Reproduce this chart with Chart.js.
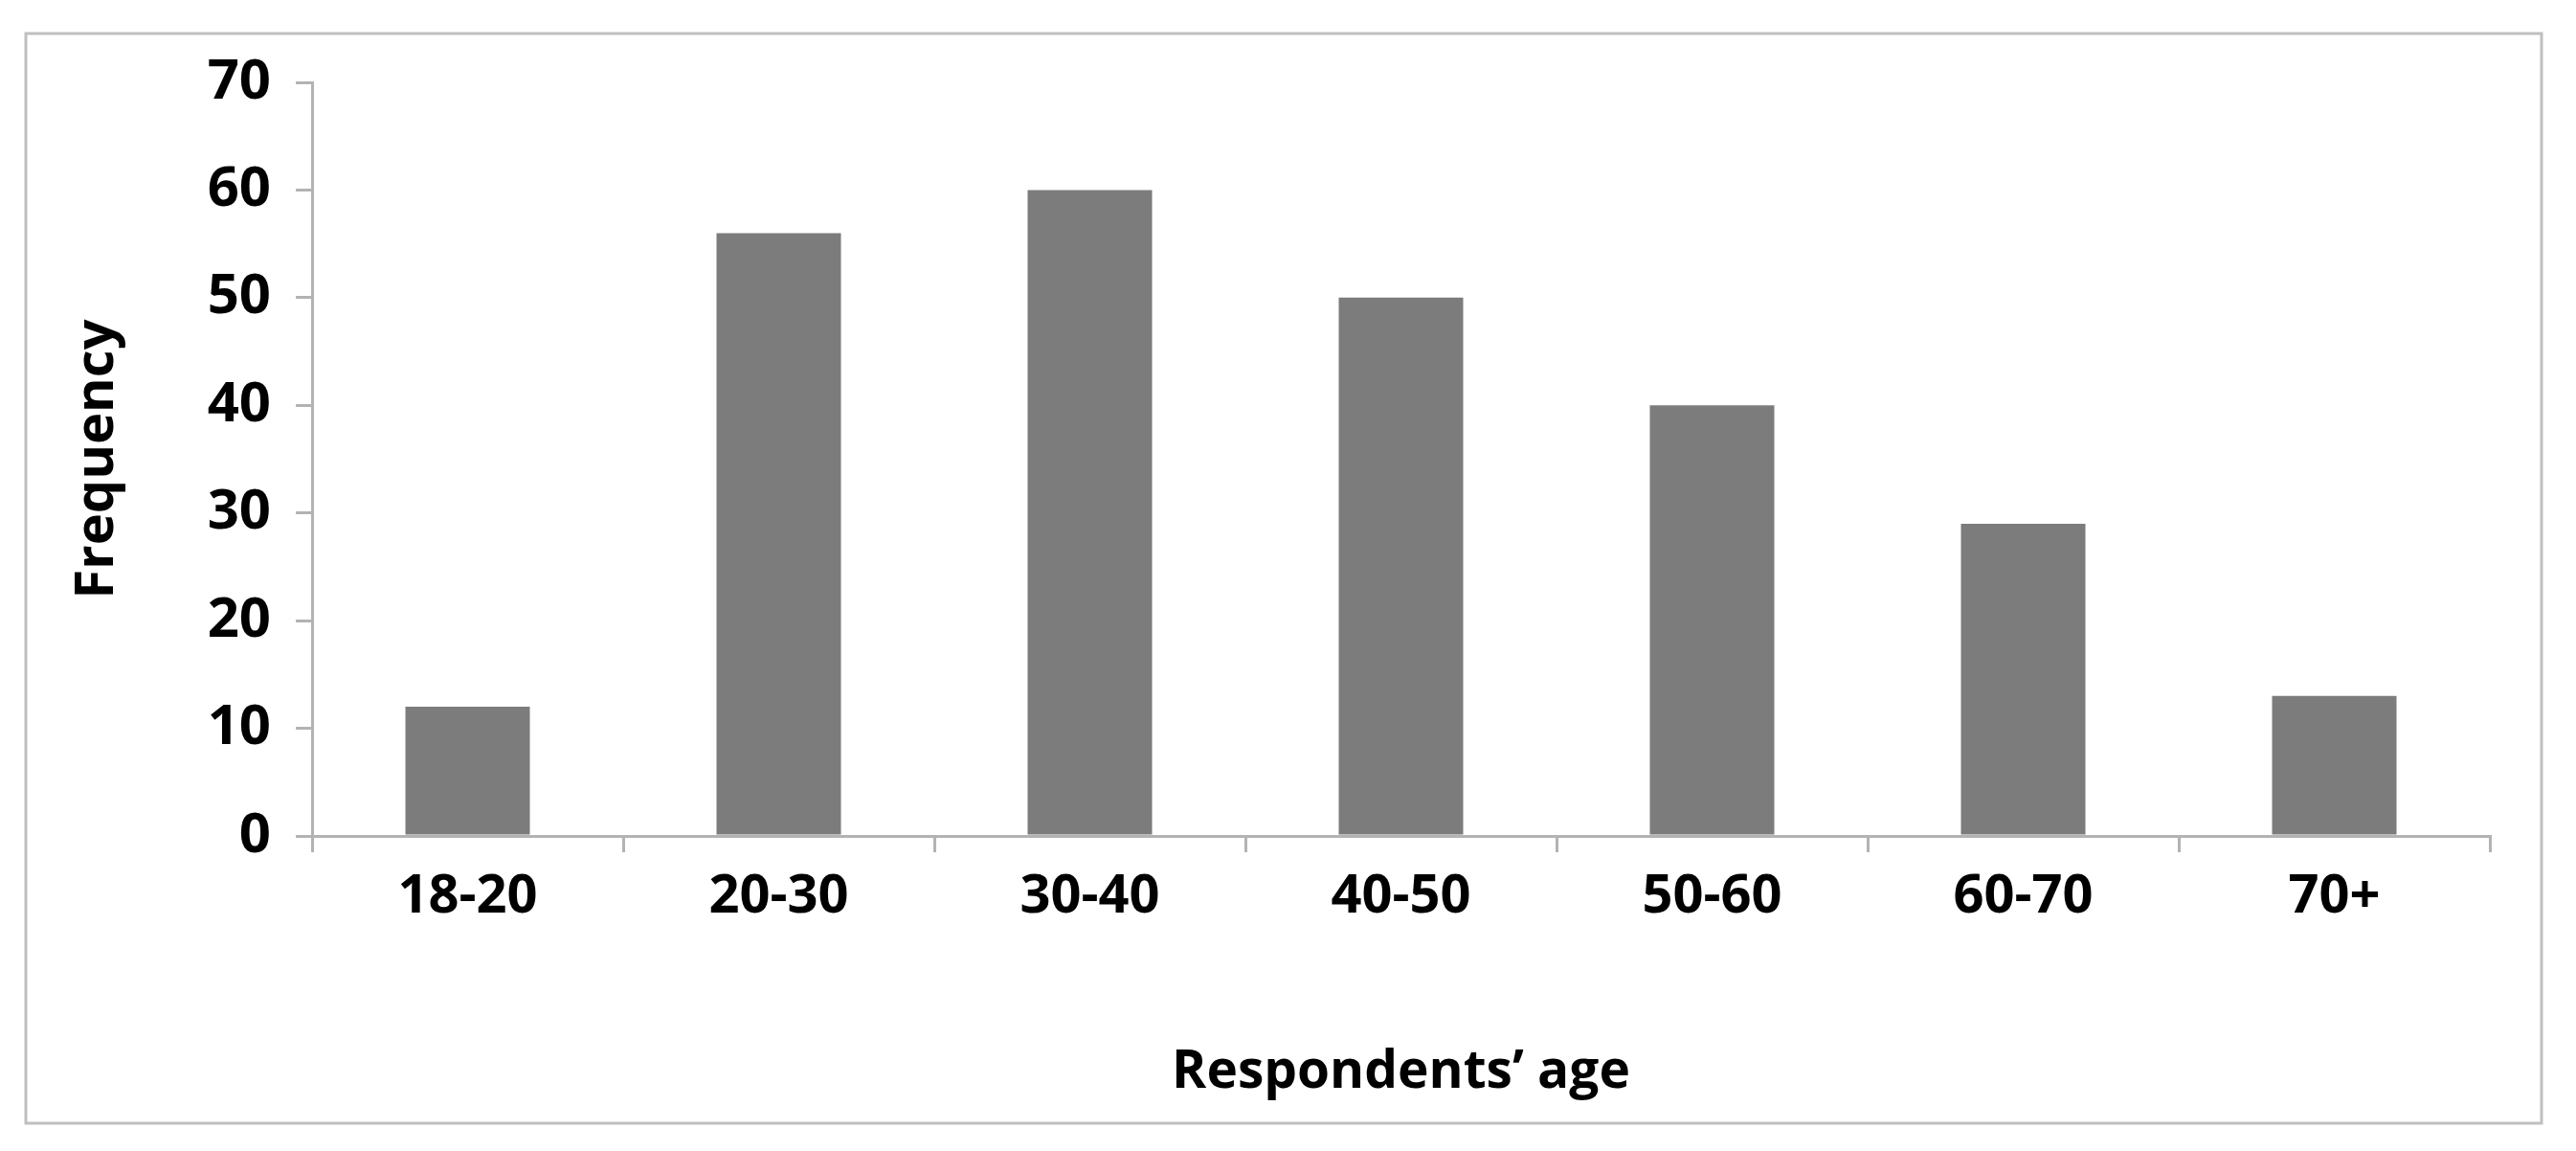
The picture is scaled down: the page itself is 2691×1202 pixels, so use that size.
<!DOCTYPE html>
<html>
<head>
<meta charset="utf-8">
<title>Respondents' age</title>
<script src="https://cdn.jsdelivr.net/npm/chart.js@4.4.0/dist/chart.umd.min.js"></script>
<style>
    html, body { margin: 0; padding: 0; background: #ffffff; }
    #wrap { width: 2691px; height: 1202px; }
</style>
</head>
<body>
<div id="wrap"><canvas id="age_chart" width="2691" height="1202"></canvas></div>
<script>

    let age_groups = ['18-20', '20-30', '30-40', '40-50', '50-60', '60-70', '70+'];
    let frequency_data = [12, 56, 60, 50, 40, 29, 13];
    let y_ticks = [0, 10, 20, 30, 40, 50, 60, 70];

    let axis_color = '#b3b3b3';
    let label_font = "'Open Sans', 'Noto Sans', sans-serif";

    // white background + the thin outer frame
    let frame_plugin = {
        id: 'frame',
        beforeDraw: function(chart) {
            let ctx = chart.ctx;
            ctx.save();
            ctx.fillStyle = '#ffffff';
            ctx.fillRect(0, 0, chart.width, chart.height);
            ctx.strokeStyle = '#bfbfbf';
            ctx.lineWidth = 3;
            ctx.strokeRect(27, 35, 2628, 1138);
            ctx.restore();
        }
    };

    new Chart(document.getElementById('age_chart'), {

        type: 'bar',

        data: {
            labels: age_groups,
            datasets: [
                {
                    label: 'Frequency',
                    data: frequency_data,
                    backgroundColor: '#7c7c7c',
                    borderWidth: 0,
                    categoryPercentage: 1,
                    barPercentage: 0.4
                }
            ]
        },

        options: {
            responsive: false,
            animation: false,
            devicePixelRatio: 1,

            layout: {
                padding: { top: 86, right: 90, left: 0, bottom: 0 }
            },

            plugins: {
                legend: { display: false },
                tooltip: { enabled: false }
            },

            scales: {
                y: {
                    min: 0,
                    max: 70,
                    afterFit: function(scale) { scale.width = 326; },
                    afterBuildTicks: function(scale) {
                        scale.ticks = y_ticks.map(function(v) { return { value: v }; });
                    },
                    border: { color: axis_color, width: 3 },
                    grid: {
                        drawOnChartArea: false,
                        color: axis_color,
                        lineWidth: 3,
                        tickLength: 17
                    },
                    ticks: {
                        color: '#000000',
                        padding: 26,
                        font: { family: label_font, weight: 'bold', size: 58 }
                    },
                    title: {
                        display: true,
                        text: 'Frequency',
                        color: '#000000',
                        padding: { top: 68, bottom: 0 },
                        font: { family: label_font, weight: 'bold', size: 56 }
                    }
                },

                x: {
                    afterFit: function(scale) { scale.height = 1202 - 873; },
                    border: { color: axis_color, width: 3 },
                    grid: {
                        offset: true,
                        drawOnChartArea: false,
                        color: axis_color,
                        lineWidth: 3,
                        tickLength: 17
                    },
                    ticks: {
                        color: '#000000',
                        padding: 13,
                        font: { family: label_font, weight: 'bold', size: 56 }
                    },
                    title: {
                        display: true,
                        text: 'Respondents’ age',
                        color: '#000000',
                        padding: { top: 0, bottom: 49 },
                        font: { family: label_font, weight: 'bold', size: 55 }
                    }
                }
            }
        },

        plugins: [frame_plugin]
    });

</script>
</body>
</html>
